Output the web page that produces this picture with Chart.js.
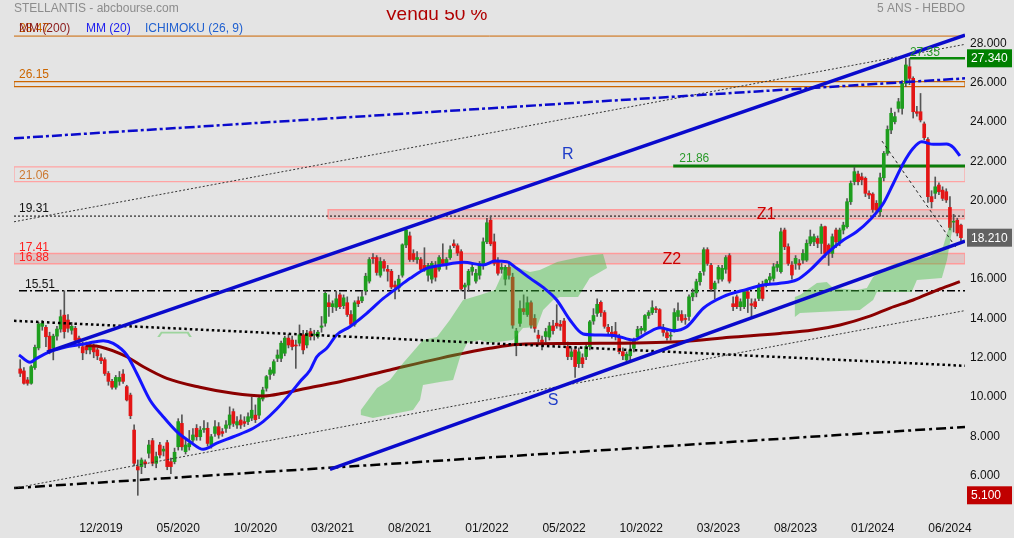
<!DOCTYPE html>
<html><head><meta charset="utf-8">
<script src="https://cdn.jsdelivr.net/npm/chart.js@4.4.1/dist/chart.umd.min.js"></script>
<style>html,body{margin:0;padding:0;background:#e4e4e4;overflow:hidden}</style>
</head><body>
<canvas id="c" width="1014" height="538"></canvas>
<script>
// ---------- DATA ----------
const tickLabels = ["12/2019","05/2020","10/2020","03/2021","08/2021","01/2022","05/2022","10/2022","03/2023","08/2023","01/2024","06/2024"];
const firstTickBar = 22, tickStep = 21;
const yTicks = [6,8,10,12,14,16,18,20,22,24,26,28];

const opens = [
11.53,11.43,10.97,10.80,11.60,12.60,13.70,13.65,13.20,12.60,
13.20,13.56,14.27,14.02,13.50,13.60,13.10,12.66,12.70,12.50,
12.70,12.50,12.10,12.00,11.30,10.90,10.60,10.90,11.27,10.63,
10.20,8.42,6.56,6.56,6.80,7.24,7.88,6.73,7.66,7.35,
7.78,6.81,6.81,7.57,8.76,7.32,7.57,7.91,8.51,8.08,
8.45,8.51,7.66,8.25,8.59,8.34,8.51,8.68,9.36,8.68,
8.93,8.85,8.85,9.03,9.18,9.18,10.00,10.55,11.25,11.31,
12.07,12.07,12.33,13.10,13.00,12.75,12.84,13.27,12.75,13.43,
13.25,13.18,13.65,13.86,14.90,14.70,14.67,15.30,14.75,14.90,
14.30,13.80,15.00,15.00,15.50,16.00,17.20,17.20,16.30,17.00,
16.60,16.50,15.80,15.66,16.30,17.84,18.30,17.40,17.10,17.10,
16.80,16.30,16.10,16.70,16.60,17.10,16.90,17.20,17.90,17.80,
17.50,15.70,15.80,16.50,16.00,16.30,16.80,18.00,19.10,18.00,
17.00,16.60,16.10,16.70,16.20,12.76,13.85,14.60,14.30,14.90,
14.10,13.25,13.00,13.18,13.15,13.72,13.86,13.80,13.97,12.67,
12.16,12.50,11.80,12.10,12.16,12.67,13.97,14.36,14.92,14.40,
13.65,13.40,13.43,13.18,12.41,11.99,12.20,12.58,13.15,13.50,
13.50,14.25,14.40,14.60,14.55,13.63,13.37,13.20,13.50,14.20,
14.30,14.10,14.20,15.20,15.40,15.97,16.50,17.60,16.80,15.60,
16.10,16.10,16.60,17.30,14.85,15.20,14.70,14.70,15.45,14.85,
14.95,15.12,15.80,15.80,16.06,16.14,16.70,16.48,18.60,17.75,
16.82,16.90,16.90,17.07,17.07,17.92,18.00,18.17,17.92,18.77,
17.83,17.41,18.60,18.00,18.60,18.77,20.04,21.06,21.45,21.31,
21.23,20.47,20.43,19.96,19.53,21.26,22.50,23.69,24.11,24.79,
24.79,26.06,26.91,26.32,24.62,24.62,24.00,23.21,20.30,20.47,
20.89,20.63,20.55,19.75,19.00,19.10,18.85];
const highs = [
12.0,11.6,11.1,11.73,12.75,13.9,14.0,13.75,13.4,13.3,
13.7,14.53,15.51,14.3,13.9,13.7,13.2,12.9,12.9,12.9,
12.8,12.6,12.3,12.1,11.4,11.0,11.2,11.4,11.5,10.7,
10.3,8.68,6.9,7.0,6.9,7.9,8.0,7.3,7.8,7.6,
7.9,7.0,7.5,9.0,9.2,7.9,8.4,8.5,8.7,8.6,
8.9,8.8,8.2,8.9,8.8,8.5,8.9,9.6,9.5,9.1,
9.2,9.1,9.3,10.1,9.7,10.1,10.6,11.2,11.6,12.0,
12.5,12.95,13.2,13.3,13.2,13.0,13.77,13.5,13.5,13.6,
13.5,13.5,14.2,15.5,15.3,15.0,15.5,15.4,15.3,15.2,
14.5,15.0,15.2,15.5,16.4,17.2,17.4,17.3,17.2,17.1,
16.8,16.6,16.0,16.3,17.9,18.7,18.5,17.6,17.5,17.2,
17.7,16.9,17.0,17.0,17.3,17.9,17.2,17.8,18.1,17.9,
17.6,15.9,16.6,16.9,16.6,17.0,18.2,19.2,19.31,18.4,
17.2,16.9,16.8,17.0,16.4,13.6,15.0,15.3,15.2,15.0,
14.3,13.5,13.2,13.6,13.9,14.0,14.8,14.0,14.1,12.9,
12.6,12.6,12.6,12.3,12.8,14.0,14.6,15.1,15.0,14.5,
13.8,13.7,13.9,13.3,12.6,12.4,12.9,13.1,13.7,13.7,
14.3,14.5,15.0,14.7,14.6,13.8,13.5,13.4,14.6,14.9,
14.5,14.3,15.3,15.6,16.1,16.5,17.7,17.7,16.9,16.0,
16.8,16.8,17.3,17.4,15.2,15.3,15.1,15.5,15.6,15.1,
15.1,15.9,16.0,16.1,16.4,16.9,17.0,18.7,18.7,17.9,
17.0,17.3,17.1,17.6,18.1,18.6,18.4,18.3,18.9,18.8,
17.9,18.4,18.7,18.7,19.0,20.2,21.1,21.8,21.6,21.5,
21.3,20.6,20.5,20.1,21.5,22.6,23.9,24.8,24.6,25.3,
26.2,27.34,27.34,26.4,24.9,25.55,24.1,23.3,20.6,21.3,
21.0,20.8,20.7,20.3,19.4,19.2,18.9];
const lows = [
11.14,10.75,10.7,10.75,11.5,12.5,13.5,12.66,12.3,11.99,
13.0,13.4,13.1,13.4,13.3,12.9,12.6,12.0,12.3,12.3,
12.1,12.0,11.8,11.2,10.7,10.5,10.5,10.7,10.8,9.9,
9.0,6.6,5.10,6.2,6.5,7.0,6.6,6.5,7.0,7.1,
6.4,6.2,6.7,7.4,7.4,7.2,7.4,7.8,7.9,7.9,
8.3,7.6,7.5,8.1,8.0,8.1,8.3,8.5,8.6,8.5,
8.5,8.6,8.7,8.9,8.8,9.0,9.9,10.4,11.0,11.2,
11.9,11.9,12.2,12.6,12.5,11.56,12.7,12.3,12.6,13.0,
13.0,13.1,13.4,13.7,14.2,14.4,14.5,14.6,14.6,14.2,
13.7,13.7,14.7,14.9,15.3,15.9,16.9,16.3,16.2,16.5,
16.0,15.6,15.1,15.5,16.2,17.7,17.0,17.0,16.9,16.5,
16.5,16.0,15.9,16.0,16.5,16.8,16.6,17.1,17.7,17.3,
15.5,15.1,15.5,16.3,15.9,16.1,16.6,17.9,17.8,16.8,
16.3,16.4,15.8,16.1,13.6,12.2,13.7,14.3,14.2,13.6,
13.4,12.9,12.5,12.9,13.0,13.3,13.6,13.5,12.8,12.0,
12.0,11.1,11.6,11.6,12.0,12.5,13.8,14.2,14.2,13.6,
13.3,13.1,13.0,12.3,12.0,11.9,12.0,12.4,13.0,13.3,
13.4,14.1,14.3,14.4,13.6,13.2,13.0,13.0,13.4,14.0,
13.9,13.8,14.0,15.0,15.2,15.8,16.3,16.8,15.5,15.1,
15.9,16.0,16.4,15.9,14.5,14.6,14.5,14.6,14.4,14.1,
14.6,15.0,15.0,15.7,15.9,16.0,16.5,16.4,17.6,16.8,
16.1,16.6,16.6,16.9,17.0,17.8,17.8,17.7,17.4,17.2,
16.8,17.2,17.7,17.8,18.4,18.7,19.9,20.9,20.9,20.9,
20.3,20.2,19.5,19.5,19.3,21.1,22.4,23.5,24.0,24.6,
24.5,25.9,26.0,24.3,24.4,24.1,23.2,20.0,19.72,20.2,
20.4,20.1,20.0,18.6,18.5,18.3,18.0];
const closes = [
11.31,10.80,10.80,11.65,12.63,13.82,13.85,13.17,12.40,13.20,
13.56,14.19,13.43,13.60,13.70,13.00,12.90,12.35,12.50,12.70,
12.40,12.20,11.95,11.30,10.90,10.60,11.10,11.10,10.90,9.95,
9.15,6.73,6.39,6.90,6.70,7.66,6.73,7.07,7.15,7.45,
6.56,6.56,7.29,8.85,7.57,7.66,7.74,8.17,8.08,8.42,
8.50,7.74,8.08,8.59,8.17,8.25,8.68,9.19,8.76,8.85,
8.68,8.76,9.10,9.43,8.95,10.05,10.46,11.14,11.48,11.90,
12.24,12.84,13.10,12.75,12.67,12.70,13.27,12.50,13.35,13.18,
13.30,13.40,13.72,15.38,14.70,14.85,15.10,14.70,15.15,14.30,
13.80,14.90,14.85,15.20,16.25,17.10,17.15,16.44,17.00,16.66,
16.50,15.70,15.70,16.10,17.85,18.60,17.10,17.10,17.20,16.60,
16.60,16.80,16.90,16.20,17.20,16.90,17.10,17.60,17.80,17.43,
15.60,15.80,16.50,16.70,16.40,16.90,18.00,18.97,17.90,16.90,
16.40,16.70,16.70,16.30,13.76,13.46,14.60,14.45,14.90,13.76,
13.60,13.09,12.90,13.43,13.72,13.48,13.72,13.70,12.90,12.16,
12.40,11.65,12.40,11.80,12.67,13.93,14.25,14.82,14.40,13.70,
13.43,13.30,13.18,12.41,12.20,12.28,12.50,13.00,13.55,13.60,
14.25,14.40,14.65,14.55,13.68,13.39,13.12,13.25,14.40,14.50,
14.00,14.05,15.20,15.40,15.97,16.40,17.60,16.90,15.60,15.90,
16.70,16.65,17.20,16.00,14.70,14.70,14.95,15.45,15.12,14.77,
14.70,15.80,15.12,16.06,16.22,16.73,16.85,18.51,17.75,16.90,
16.31,17.16,16.82,17.41,17.92,18.26,18.26,17.92,18.77,17.41,
17.41,18.26,18.00,18.60,18.85,20.04,20.97,21.57,21.06,21.15,
20.47,20.38,19.65,19.62,21.26,22.50,23.72,24.54,24.37,25.13,
26.06,27.00,26.32,24.62,24.54,24.20,23.30,20.30,20.04,20.80,
20.55,20.21,20.13,18.73,19.05,18.45,18.21];

// moving averages (bar index, value)
const ma20Bars = [-0.33,2.67,4.49,8.11,12.65,18.1,22.6,25.3,29.0,31.7,35.3,38.9,42.6,46.2,49.8,53.5,58.0,63.4,66.1,69.8,74.3,76.1,78.9,80.7,83.4,86.1,89.7,94.3,98.8,102.4,106.1,110.6,115.1,120.6,126.0,129.2,132.4,135.1,138.8,142.3,146.0,149.6,153.2,156.9,162.3,166.8,170.5,174.1,177.7,181.4,185.9,191.3,197.7,202.2,206.7,211.3,214.9,219.5,224.0,227.6,231.2,234.9,237.6,240.3,243.0,245.3,248.5,252.1,253.9,255.7];
const ma20Vals = [12.24,11.87,12.07,12.41,12.66,12.83,12.97,12.83,12.24,11.31,9.95,9.10,8.34,7.83,7.44,7.75,8.08,8.51,8.85,9.49,10.46,10.88,11.48,12.15,12.58,13.26,13.68,14.36,15.12,15.63,16.14,16.65,16.82,16.96,16.82,17.02,16.99,16.65,16.14,15.68,15.04,14.02,13.31,13.26,13.21,13.00,13.34,13.63,13.48,13.68,14.62,15.21,15.58,15.80,15.89,16.06,16.56,17.41,18.09,18.51,19.11,19.96,20.97,21.99,22.76,23.09,22.96,22.98,22.81,22.37];
const ma200Bars = [17.9,21.7,29.0,33.5,39.9,48.9,57.9,66.1,71.5,78.0,87.0,100.6,114.2,127.8,135.2,150.4,179.5,193.1,206.7,215.7,223.1,231.2,236.7,243.0,250.3,255.7];
const ma200Vals = [12.72,12.66,12.15,11.64,11.05,10.60,10.29,10.15,10.29,10.55,10.88,11.48,12.07,12.58,12.78,12.83,12.92,13.14,13.34,13.51,13.77,14.22,14.63,15.04,15.60,15.97];

// Ichimoku cloud outlines (bar index, value)
const kumo1Bars = [92.7,97.1,100.6,104.2,108.0,109.6,113.4,116.9,120.5,125.1,129.2,131.4,133.3,138.7,141.4,146.1,152.3,155.9,158.6,159.7,155.0,151.8,146.9,145.0,142.3,140.6,136.8,134.1,127.8,125.1,121.6,119.7,117.8,114.2,109.6,108.8,106.9,96.0,92.7];
const kumo1Vals = [9.44,10.56,10.97,11.83,12.65,13.00,13.16,14.02,15.04,15.29,15.55,16.46,16.82,16.46,16.56,16.97,17.23,17.33,17.38,16.67,16.16,15.19,15.19,15.04,14.53,13.66,13.61,13.00,12.85,13.00,12.85,12.14,10.97,10.87,10.71,9.95,9.44,9.03,9.19];
const kumo2Bars = [210.8,212.2,216.8,219.5,221.2,227.7,230.4,232.1,235.9,238.6,242.1,247.6,251.1,252.5,253.3,253.6,252.2,250.8,244.0,242.6,233.1,232.1,228.5,212.2,210.8];
const kumo2Vals = [15.19,15.29,15.90,15.95,15.65,15.55,15.65,16.21,16.72,16.92,17.02,17.23,17.74,18.60,19.21,18.60,17.07,16.16,16.06,15.45,15.45,15.04,14.53,14.38,14.17];
const kumo3Bars = [37.3,38.3,45.8,46.7,46.0,45.4,38.6,38.0,37.3];
const kumo3Vals = [13.16,13.42,13.42,13.16,13.16,13.33,13.33,13.16,13.16];

// trend lines [bar, value] end points
const lineR = [[7.3,12.39],[257.1,28.52]];
const lineS = [[84.3,6.42],[257.1,18.04]];
const lineTopDashDot = [[-1.69,23.27],[257.1,26.32]];
const lineUpperDotted = [[-1.69,19.02],[257.1,28.05]];
const lineLowerDotted = [[-1.69,5.46],[257.1,14.50]];
const lineBlackDotted = [[-1.69,13.98],[257.1,11.69]];
const lineBottomDashDot = [[-1.69,5.47],[257.1,8.58]];
const linePeakDashed = [[234.5,23.13],[254.8,17.67]];

// horizontal levels and zones
const level2847 = 28.47, level1931 = 19.31, level1551 = 15.51, level2186 = 21.86, level2734 = 27.34;
const zone2615 = [25.90, 26.15];
const zone2106 = [21.06, 21.81];
const zoneZ1 = [19.17, 19.63];
const zoneZ2 = [16.88, 17.41];

// ---------- CHART ----------
const FONT = '"Liberation Sans", Arial, Helvetica, sans-serif';
const XMIN = -1.69, XMAX = 257.1;
const GREEN = '#1e9e1e', RED = '#e31515';

const toPts = (bx, vy) => bx.map((b, i) => ({x: b, y: vy[i]}));
const seg = (p) => p.map(q => ({x: q[0], y: q[1]}));
const hline = (v, x0 = XMIN, x1 = XMAX) => [{x: x0, y: v}, {x: x1, y: v}];
const rect = (z, x0 = XMIN, x1 = XMAX) => [{x:x0,y:z[0]},{x:x1,y:z[0]},{x:x1,y:z[1]},{x:x0,y:z[1]},{x:x0,y:z[0]}];

function lineDS(data, color, width, dash, order, extra) {
  return Object.assign({type: 'line', data, borderColor: color, borderWidth: width, borderDash: dash || [],
    pointRadius: 0, fill: false, tension: 0, order, clip: 0}, extra || {});
}
function shapeDS(data, fillColor, borderColor, borderWidth, order) {
  return {type: 'line', data, borderColor, borderWidth, backgroundColor: fillColor, fill: 'shape',
    pointRadius: 0, tension: 0, order, clip: 0};
}

const bodyColors = closes.map((c, i) => c >= opens[i] ? GREEN : RED);
const wickData = highs.map((h, i) => ({x: i, y: [lows[i], h]}));
const bodyData = opens.map((o, i) => ({x: i, y: [Math.min(o, closes[i]), Math.max(o, closes[i]) + (o === closes[i] ? 0.03 : 0)]}));

const datasets = [
  lineDS(seg(lineR), '#0a0acc', 3.5, [], 1),
  lineDS(seg(lineS), '#0a0acc', 3.5, [], 1),
  lineDS(seg(lineTopDashDot), '#0a0acc', 2.5, [10, 3, 3, 3], 1),
  lineDS(seg(lineUpperDotted), '#333333', 1, [2, 2], 1),
  lineDS(seg(lineLowerDotted), '#333333', 1, [2, 2], 1),
  lineDS(seg(lineBlackDotted), '#000000', 2.5, [2.5, 3], 1),
  lineDS(seg(lineBottomDashDot), '#000000', 2.5, [10, 4, 3, 4], 1),
  lineDS(seg(linePeakDashed), '#222222', 1, [3, 3], 1),
  lineDS(toPts(ma20Bars, ma20Vals), '#1414ff', 3, [], 2, {tension: 0.4, cubicInterpolationMode: 'monotone'}),
  shapeDS(toPts(kumo1Bars, kumo1Vals), 'rgba(60,190,60,0.42)', 'rgba(0,0,0,0)', 0, 3),
  shapeDS(toPts(kumo2Bars, kumo2Vals), 'rgba(60,190,60,0.42)', 'rgba(0,0,0,0)', 0, 3),
  shapeDS(toPts(kumo3Bars, kumo3Vals), 'rgba(60,190,60,0.42)', 'rgba(0,0,0,0)', 0, 3),
  lineDS(toPts(ma200Bars, ma200Vals), '#8b0000', 3, [], 4, {tension: 0.4, cubicInterpolationMode: 'monotone'}),
  {type: 'bar', data: bodyData, backgroundColor: bodyColors, borderWidth: 0, barThickness: 3, grouped: false, order: 5},
  {type: 'bar', data: wickData, backgroundColor: '#555555', borderWidth: 0, barThickness: 1, grouped: false, order: 6},
  lineDS(hline(level2847), '#cc6600', 1, [], 7),
  lineDS(hline(level1931), '#000000', 1, [2, 2], 7),
  lineDS(hline(level1551, -0.33), '#000000', 1.3, [8, 3, 2, 3], 7),
  lineDS(hline(level2186, 177.7), '#0a7d0a', 3, [], 7),
  lineDS(hline(level2734, 242.1), '#0a8a0a', 2.5, [], 7),
  shapeDS(rect(zone2615), 'rgba(0,0,0,0)', '#cc6600', 1.2, 8),
  shapeDS(rect(zone2106), 'rgba(0,0,0,0)', '#ffa3a3', 1.2, 8),
  shapeDS(rect(zoneZ1, 83.8), 'rgba(200,80,80,0.2)', '#ff9a9a', 1.5, 8),
  shapeDS(rect(zoneZ2), 'rgba(200,80,80,0.2)', '#ff9a9a', 1.5, 8),
];

const textPlugin = {
  id: 'texts',
  beforeDraw(chart) {
    const c = chart.ctx;
    c.save(); c.fillStyle = '#e4e4e4'; c.fillRect(0, 0, chart.width, chart.height); c.restore();
  },
  afterDraw(chart) {
    const c = chart.ctx, xs = chart.scales.x, ys = chart.scales.y, a = chart.chartArea;
    const px = b => xs.getPixelForValue(b), py = v => ys.getPixelForValue(v);
    c.save();
    c.textBaseline = 'middle';
    const txt = (s, x, y, col, size, align) => {
      c.font = (size || 12) + 'px ' + FONT; c.fillStyle = col; c.textAlign = align || 'left'; c.fillText(s, x, y);
    };
    txt('STELLANTIS - abcbourse.com', 14, 9, '#8c8c8c', 12);
    txt('5 ANS - HEBDO', a.right, 9, '#8c8c8c', 12, 'right');
    c.save(); c.beginPath(); c.rect(0, 10, chart.width, 40); c.clip();
    txt('Vendu 50 %', 385, 15, '#b00000', 19);
    c.restore();
    const L = a.left + 5;
    txt(level2847.toFixed(2), L, py(level2847) - 7, '#cc6600', 12);
    txt('26.15', L, py(26.15) - 7, '#cc6600', 12);
    txt('21.06', L, py(21.06) - 6, '#cc7a33', 12);
    txt('19.31', L, py(level1931) - 7, '#111111', 12);
    txt('17.41', L, py(17.41) - 6, '#ff2020', 12);
    txt('16.88', L, py(16.88) - 6, '#ff2020', 12);
    txt('15.51', L + 6, py(level1551) - 6, '#111111', 12);
    txt('21.86', px(177.7) + 6, py(level2186) - 7, '#2a9a2a', 12);
    txt('27.35', px(242.1), py(level2734) - 6, '#2a9a2a', 12);
    txt('MM (200)', 19, 29, '#8b1a1a', 12);
    txt('MM (20)', 86, 29, '#2020ee', 12);
    txt('ICHIMOKU (26, 9)', 145, 29, '#2060d0', 12);
    txt('R', px(149), py(22.45), '#1e3cc8', 16, 'center');
    txt('S', px(145), py(9.9), '#1e3cc8', 16, 'center');
    txt('Z1', px(203), py(19.4), '#cc0000', 16, 'center');
    txt('Z2', px(177.3), py(17.1), '#cc0000', 16, 'center');
    const box = (v, bg) => {
      const y = py(v);
      c.fillStyle = bg; c.fillRect(a.right + 2, y - 9, 45, 18);
      txt(v.toFixed(3), a.right + 6, y + 0.5, '#ffffff', 12);
    };
    box(Math.max(...highs), '#008000');
    box(closes[closes.length - 1], '#626262');
    box(Math.min(...lows), '#c00000');
    c.restore();
  }
};

new Chart(document.getElementById('c'), {
  type: 'bar',
  data: {datasets},
  options: {
    responsive: false, animation: false, events: [],
    devicePixelRatio: 1,
    layout: {padding: {left: 14, top: 30, right: 0, bottom: 0}},
    plugins: {legend: {display: false}, tooltip: {enabled: false}},
    scales: {
      x: {
        type: 'linear', min: XMIN, max: XMAX, offset: false,
        grid: {display: false, drawTicks: false}, border: {display: false},
        afterBuildTicks: s => { s.ticks = tickLabels.map((t, k) => ({value: firstTickBar + k * tickStep})); },
        afterFit: s => { s.height = 26; },
        ticks: {autoSkip: false, maxRotation: 0, padding: 9, color: '#111111', font: {family: FONT, size: 12},
          callback: (v, i) => tickLabels[i]}
      },
      y: {
        type: 'linear', position: 'right', min: 4.25, max: 28.78,
        grid: {display: false, drawTicks: false}, border: {display: false},
        afterBuildTicks: s => { s.ticks = yTicks.map(v => ({value: v})); },
        afterFit: s => { s.width = 49; },
        ticks: {padding: 5, labelOffset: -2, color: '#111111', font: {family: FONT, size: 12},
          callback: v => Number(v).toFixed(3)}
      }
    }
  },
  plugins: [textPlugin]
});
</script>
</body></html>
